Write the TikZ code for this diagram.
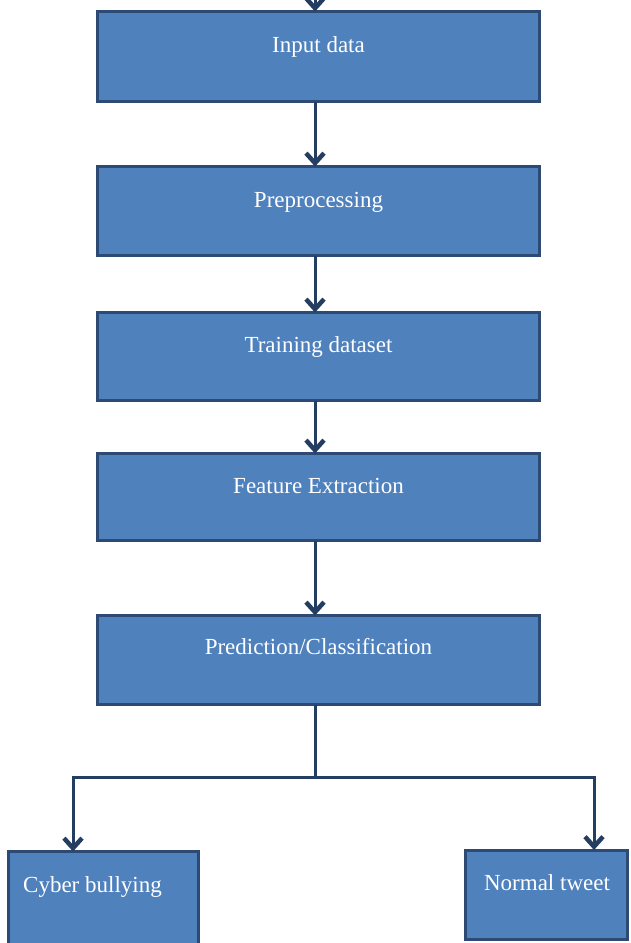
\documentclass[tikz,border=0pt]{standalone}
\usepackage{fontspec}
\setmainfont{Liberation Serif}
\usetikzlibrary{arrows.meta}
\definecolor{boxfill}{RGB}{79,129,189}
\definecolor{boxline}{RGB}{44,74,115}
\definecolor{arrline}{RGB}{36,62,98}
\tikzset{
  box/.style={rectangle, draw=boxline, fill=boxfill, line width=3pt, inner sep=0pt, outer sep=0pt},
  lbl/.style={text=white, font=\fontsize{23}{27}\selectfont, inner sep=0pt, anchor=base},
  arr/.style={draw=arrline, line width=3pt, -{Straight Barb[length=10pt,width=18pt,line width=4.5pt]}},
  ln/.style={draw=arrline, line width=3pt}
}
\begin{document}
\begin{tikzpicture}[x=1pt,y=-1pt]
\useasboundingbox (0,0) rectangle (630,943);
\coordinate (cx) at (315,0);
\coordinate (top) at (315,-10);
\node[box, minimum width=442pt, minimum height=90pt] (b1) at (318.5,56.5) {};
\node[box, minimum width=442pt, minimum height=89pt] (b2) at (318.5,211) {};
\node[box, minimum width=442pt, minimum height=88pt] (b3) at (318.5,356.5) {};
\node[box, minimum width=442pt, minimum height=87pt] (b4) at (318.5,497) {};
\node[box, minimum width=442pt, minimum height=89pt] (b5) at (318.5,660) {};
\node[box, minimum width=190pt, minimum height=95pt] (cb) at (103.5,899) {};
\node[box, minimum width=162pt, minimum height=89pt] (nt) at (546.5,894.5) {};
\node[lbl] (t1) at (318.5,52) {Input data};
\node[lbl] (t2) at (318.5,207) {Preprocessing};
\node[lbl] (t3) at (318.5,352) {Training dataset};
\node[lbl] (t4) at (318.5,493) {Feature Extraction};
\node[lbl] (t5) at (318.5,654) {Prediction/Classification};
\node[lbl] (t6) at (92.5,892) {Cyber bullying};
\node[lbl] (t7) at (547,890) {Normal tweet};
\coordinate (jn) at (315,777);
\coordinate (jl) at (73,777);
\coordinate (jr) at (594,777);
\draw[arr] (top) -- (b1.north -| cx);
\draw[arr] (b1.south -| cx) -- (b2.north -| cx);
\draw[arr] (b2.south -| cx) -- (b3.north -| cx);
\draw[arr] (b3.south -| cx) -- (b4.north -| cx);
\draw[arr] (b4.south -| cx) -- (b5.north -| cx);
\draw[ln, line join=miter] (b5.south -| cx) -- (jn);
\draw[arr, line join=miter] (jn) -- (jl) -- (cb.north -| jl);
\draw[arr, line join=miter] (jn) -- (jr) -- (nt.north -| jr);
\end{tikzpicture}
\end{document}
